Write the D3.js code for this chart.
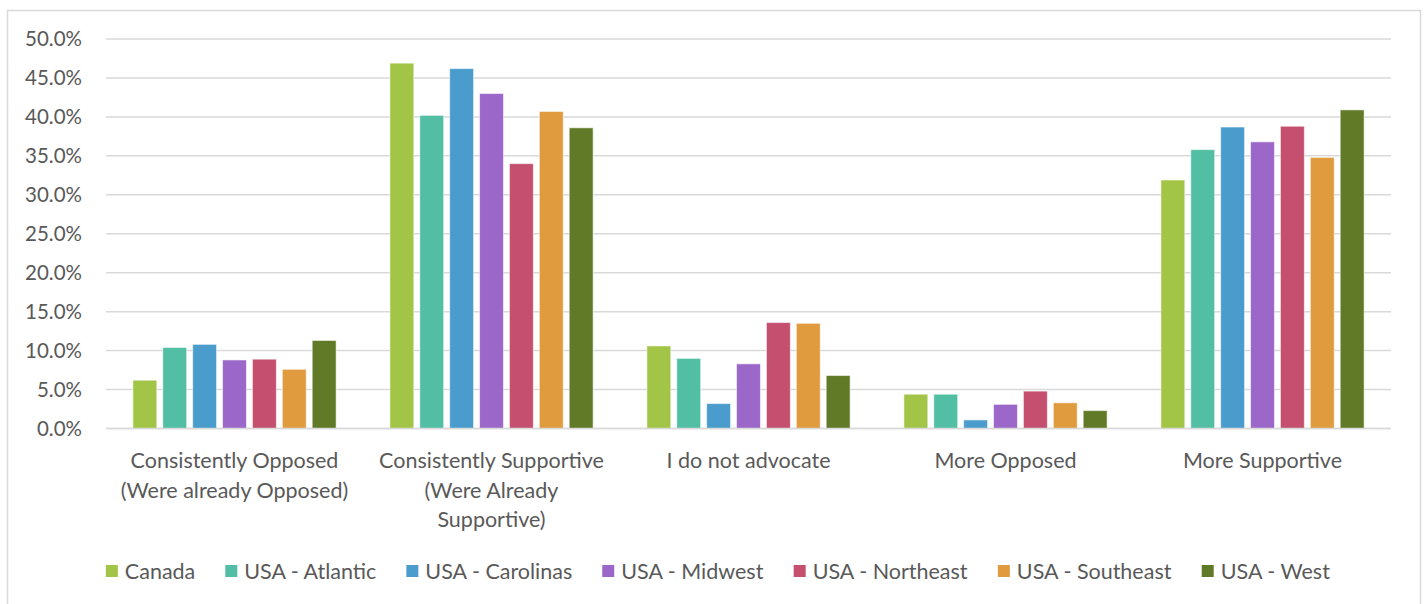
<!DOCTYPE html>
<html>
<head>
<meta charset="utf-8">
<script src="https://cdn.jsdelivr.net/npm/d3@7"></script>
<style>
  html, body { margin: 0; padding: 0; background: #fff; }
  svg { display: block; font-family: Lato, "Open Sans", sans-serif; }
</style>
</head>
<body>
<svg id="chart" width="1424" height="604"></svg>
<script>
// Response categories (multi-line labels split on "\n")
const categories = [
  "Consistently Opposed\n(Were already Opposed)",
  "Consistently Supportive\n(Were Already\nSupportive)",
  "I do not advocate",
  "More Opposed",
  "More Supportive"
];

const seriesNames = [
  "Canada", "USA - Atlantic", "USA - Carolinas", "USA - Midwest",
  "USA - Northeast", "USA - Southeast", "USA - West"
];

const seriesColors = [
  "#a2c547", "#52bfa4", "#4a9ccc", "#9b67c9", "#c44f6f", "#df9b3d", "#617a28"
];

// Share of respondents (%) per region, in category order
const canada    = [6.2, 46.9, 10.6, 4.4, 31.9];
const atlantic  = [10.4, 40.2, 9.0, 4.4, 35.8];
const carolinas = [10.8, 46.2, 3.2, 1.1, 38.7];
const midwest   = [8.8, 43.0, 8.3, 3.1, 36.8];
const northeast = [8.9, 34.0, 13.6, 4.8, 38.8];
const southeast = [7.6, 40.7, 13.5, 3.3, 34.8];
const west      = [11.3, 38.6, 6.8, 2.3, 40.9];

const seriesValues = [canada, atlantic, carolinas, midwest, northeast, southeast, west];

const yTicks = [0, 5, 10, 15, 20, 25, 30, 35, 40, 45, 50];

const svg = d3.select("#chart");

// Outer chart frame
svg.append("rect")
  .attr("x", 7.5).attr("y", 10.5)
  .attr("width", 1413).attr("height", 620)
  .attr("fill", "none").attr("stroke", "#d9d9d9").attr("stroke-width", 1.5);

const plot = { left: 106, right: 1391, top: 39, bottom: 428.5 };

const x0 = d3.scaleBand()
  .domain(categories)
  .range([plot.left, plot.right])
  .padding(0);

const x1 = d3.scaleBand()
  .domain(seriesNames)
  .range([0, x0.bandwidth()])
  .paddingInner(0.2)
  .paddingOuter(0.9);

const y = d3.scaleLinear()
  .domain([0, 50])
  .range([plot.bottom, plot.top]);

const textColor = "#595959";

// Gridlines
svg.append("g")
  .selectAll("line")
  .data(yTicks)
  .join("line")
  .attr("x1", plot.left).attr("x2", plot.right)
  .attr("y1", d => y(d)).attr("y2", d => y(d))
  .attr("stroke", "#d9d9d9").attr("stroke-width", 1.5);

// Y axis labels
const yAxis = d3.axisLeft(y)
  .tickValues(yTicks)
  .tickSize(0)
  .tickPadding(24)
  .tickFormat(d => d.toFixed(1) + "%");

svg.append("g")
  .attr("transform", `translate(${plot.left},0)`)
  .call(yAxis)
  .call(g => g.select(".domain").remove())
  .call(g => g.selectAll("text")
    .attr("fill", textColor)
    .attr("font-size", 20.5)
    .attr("font-family", "Lato, sans-serif"));

// Bars
const groups = svg.append("g")
  .selectAll("g")
  .data(categories.map((c, i) => ({ c, i })))
  .join("g")
  .attr("transform", d => `translate(${x0(d.c)},0)`);

groups.selectAll("rect")
  .data(d => seriesNames.map((s, k) => ({ s, k, v: seriesValues[k][d.i] })))
  .join("rect")
  .attr("x", d => x1(d.s))
  .attr("width", x1.bandwidth())
  .attr("y", d => y(d.v))
  .attr("height", d => y(0) - y(d.v))
  .attr("fill", d => seriesColors[d.k])
  .attr("stroke", "#ffffff")
  .attr("stroke-opacity", 0.55)
  .attr("stroke-width", 1);

// Baseline
svg.append("line")
  .attr("x1", plot.left).attr("x2", plot.right)
  .attr("y1", y(0)).attr("y2", y(0))
  .attr("stroke", "#d9d9d9").attr("stroke-width", 1.5);

// Category labels
svg.append("g")
  .selectAll("text")
  .data(categories)
  .join("text")
  .attr("x", d => x0(d) + x0.bandwidth() / 2)
  .attr("y", 468)
  .attr("text-anchor", "middle")
  .attr("fill", textColor)
  .attr("font-size", 21.5)
  .each(function (d) {
    const lines = d.split("\n");
    d3.select(this).selectAll("tspan")
      .data(lines)
      .join("tspan")
      .attr("x", x0(d) + x0.bandwidth() / 2)
      .attr("dy", (l, i) => i === 0 ? 0 : 29.5)
      .text(l => l);
  });

// Legend
const legend = svg.append("g");
const items = legend.selectAll("g")
  .data(seriesNames.map((s, k) => ({ s, k })))
  .join("g");

items.append("rect")
  .attr("width", 12).attr("height", 12)
  .attr("y", 565)
  .attr("fill", d => seriesColors[d.k]);

items.append("text")
  .attr("x", 19)
  .attr("y", 578.5)
  .attr("fill", textColor)
  .attr("font-size", 21.5)
  .text(d => d.s);

// Lay out legend entries horizontally, centered
const gap = 30;
const widths = [];
items.each(function () {
  widths.push(this.getBBox().width);
});
const total = d3.sum(widths) + gap * (widths.length - 1);
let cx = 718 - total / 2;
items.attr("transform", (d, i) => {
  const t = `translate(${cx},0)`;
  cx += widths[i] + gap;
  return t;
});
</script>
</body>
</html>
